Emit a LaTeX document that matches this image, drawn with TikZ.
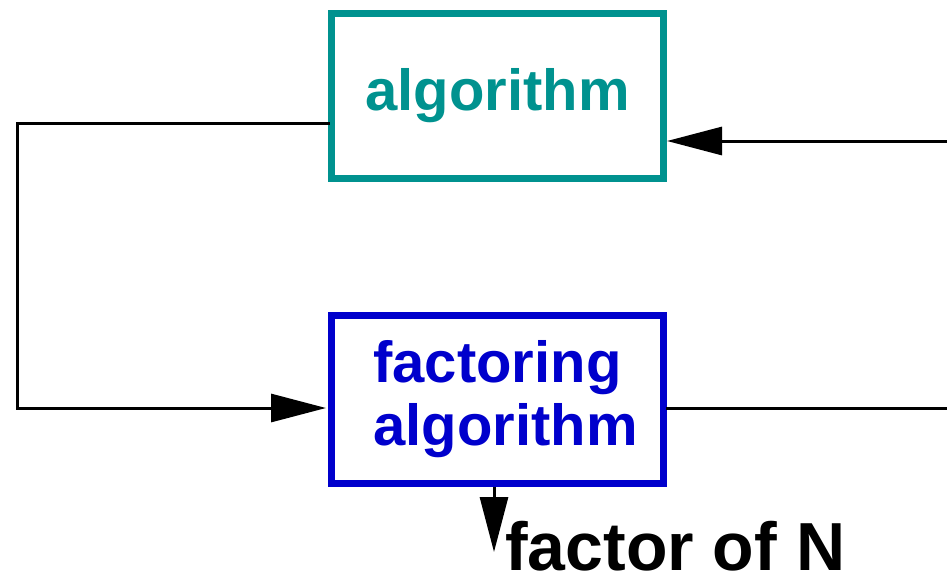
\documentclass[tikz,border=0pt]{standalone}
\usepackage{fontspec}
\setmainfont{Liberation Sans}
\usetikzlibrary{arrows.meta}
\definecolor{tealbox}{RGB}{0,146,143}
\definecolor{bluebox}{RGB}{0,0,204}
\tikzset{
  block/.style={draw, line width=7pt, rectangle, inner sep=0pt,
    minimum width=332pt, font=\bfseries\fontsize{58}{63}\selectfont},
  wire/.style={line width=3pt, line cap=rect},
  flow/.style={line width=3pt, -{Triangle[length=55pt,width=28pt]}},
}
\begin{document}
\begin{tikzpicture}[x=1pt,y=-1pt]
  \useasboundingbox (0,0) rectangle (947,582);

  % the two processing blocks
  \node[block, draw=tealbox, text=tealbox, minimum height=165pt]
    (alg) at (497.5,95.5) {algorithm};
  \node[block, draw=bluebox, text=bluebox, minimum height=168pt, align=left]
    (fact) at (497.5,399) {\hspace*{16pt}factoring\\\hspace*{16pt}algorithm};

  % output label
  \node[anchor=base west, inner sep=0pt, font=\bfseries\fontsize{68}{72}\selectfont]
    (out) at (505,570) {factor of N};

  % loose ends of the loop
  \coordinate (lt) at (17,123);
  \coordinate (lb) at (17,408);
  \coordinate (rt) at (947,141);
  \coordinate (rb) at (947,408);
  \coordinate (dn) at (494,552);

  % loop on the left
  \draw[wire] (alg.west |- lt) -- (lt) -- (lb);
  \draw[flow] (lb) -- ([xshift=-2pt]fact.west |- lb);
  % feedback on the right
  \draw[flow] (rt) -- (alg.east |- rt);
  \draw[wire] (fact.east |- rb) -- (rb);
  % result
  \draw[flow] (fact.south -| dn) -- (dn);
\end{tikzpicture}
\end{document}
